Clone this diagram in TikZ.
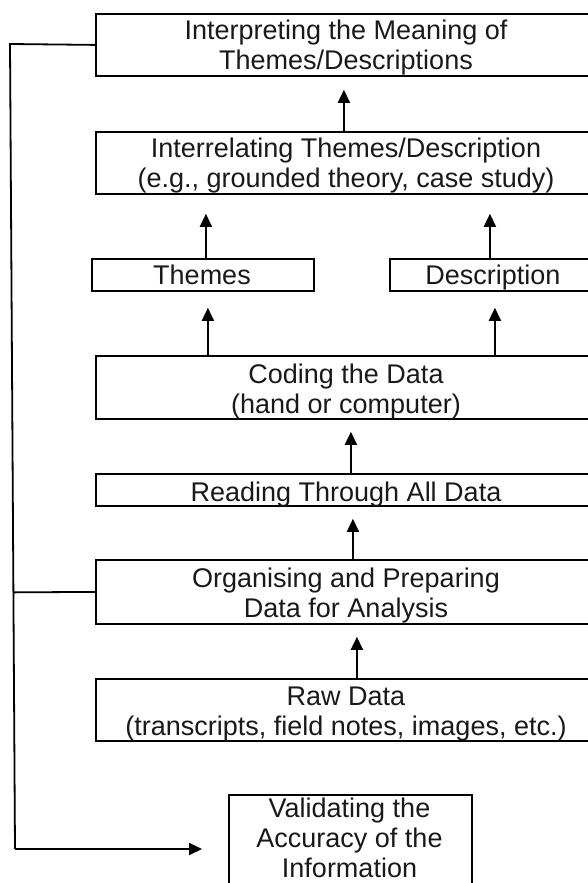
\documentclass[tikz,border=0pt]{standalone}
\usepackage{fontspec}
\setmainfont{Liberation Sans}
\usetikzlibrary{arrows.meta,calc}
\begin{document}
\begin{tikzpicture}[x=1pt,y=-1pt,
  boxstyle/.style={draw=black, line width=1.8pt, inner sep=0pt, anchor=north west},
  bigbox/.style={boxstyle, minimum width=502pt},
  lbl/.style={font=\fontsize{27}{30.5}\selectfont, align=center, inner sep=0pt, anchor=north, text=black!90},
  arr/.style={line width=1.8pt, -{Triangle[length=13pt,width=12pt]}},
  ln/.style={line width=1.8pt}]
\useasboundingbox (0,0) rectangle (588,883);
\clip (0,0) rectangle (588,883);
% boxes
\node[bigbox, minimum height=62pt] (interp) at (95,13) {};
\node[bigbox, minimum height=62pt] (interrel) at (95,131) {};
\node[boxstyle, minimum width=222pt, minimum height=32pt] (themes) at (91,258) {};
\node[boxstyle, minimum width=208pt, minimum height=32pt] (descr) at (389,258) {};
\node[bigbox, minimum height=63pt] (coding) at (95,355) {};
\node[bigbox, minimum height=32pt] (reading) at (95,473) {};
\node[bigbox, minimum height=64pt] (organ) at (95,559) {};
\node[bigbox, minimum height=62pt] (raw) at (95,678) {};
\node[boxstyle, minimum width=243pt, minimum height=106pt] (valid) at (228,794) {};
% texts
\node[lbl] (interpT) at (346,19.5) {Interpreting the Meaning of\\Themes/Descriptions};
\node[lbl] (interrelT) at (346,137.5) {Interrelating Themes/Description\\(e.g., grounded theory, case study)};
\node[lbl] (themesT) at (202,264.5) {Themes};
\node[lbl] (descrT) at (493,264.5) {Description};
\node[lbl] (codingT) at (346,363.5) {Coding the Data\\(hand or computer)};
\node[lbl] (readingT) at (346,481.5) {Reading Through All Data};
\node[lbl] (organT) at (346,567.5) {Organising and Preparing\\Data for Analysis};
\node[lbl] (rawT) at (346,686.5) {Raw Data\\(transcripts, field notes, images, etc.)};
\node[lbl, font=\fontsize{27}{30}\selectfont] (validT) at (349.5,797.5) {Validating the\\Accuracy of the\\Information};
% arrows
\coordinate (a1) at ([xshift=-3pt]interrel.north);
\draw[arr, shorten >=13pt] (a1) -- (a1 |- interp.south);
\coordinate (a2) at ([xshift=3pt]themes.north);
\draw[arr, shorten >=19pt] (a2) -- (a2 |- interrel.south);
\coordinate (a3) at ([xshift=-4pt]descr.north);
\draw[arr, shorten >=19pt] (a3) -- (a3 |- interrel.south);
\coordinate (a4) at ([xshift=5pt]themes.south);
\draw[arr, shorten >=16pt] (a4 |- coding.north) -- (a4);
\coordinate (a5) at ([xshift=1pt]descr.south);
\draw[arr, shorten >=16pt] (a5 |- coding.north) -- (a5);
\coordinate (a6) at ([xshift=4pt]reading.north);
\draw[arr, shorten >=12pt] (a6) -- (a6 |- coding.south);
\coordinate (a7) at ([xshift=6pt]organ.north);
\draw[arr, shorten >=12pt] (a7) -- (a7 |- reading.south);
\coordinate (a8) at ([xshift=10pt]raw.north);
\draw[arr, shorten >=12pt] (a8) -- (a8 |- organ.south);
% feedback line
\coordinate (lt) at (10,44);
\coordinate (lb) at (15,849);
\coordinate (lm) at ($(lt)!(organ.west)!(lb)$);
\draw[ln] (interp.west) -- (lt) -- (lb);
\draw[ln] (organ.west) -- (lm);
\draw[arr, shorten >=26pt] (lb) -- (lb -| valid.west);
\end{tikzpicture}
\end{document}
